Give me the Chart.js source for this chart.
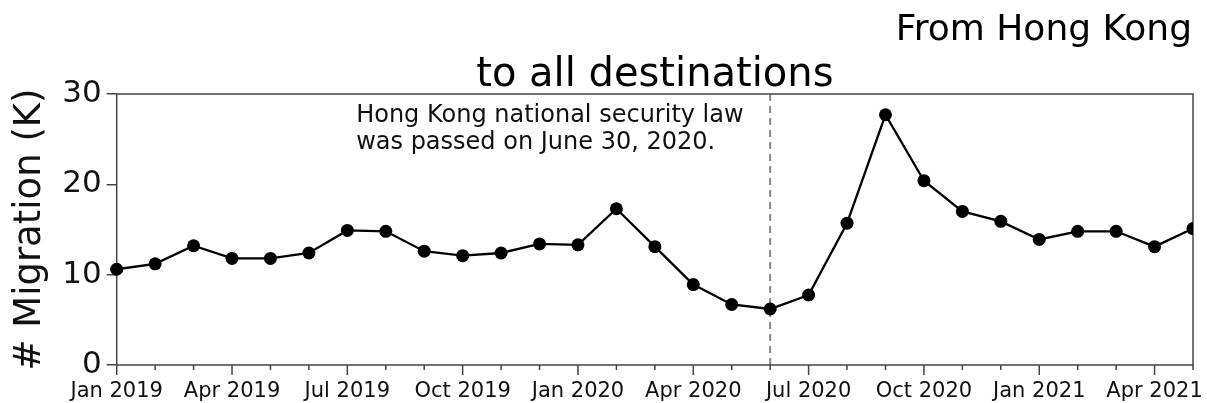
<!DOCTYPE html>
<html>
<head>
<meta charset="utf-8">
<script src="https://cdn.jsdelivr.net/npm/chart.js@4"></script>
<style>
  html, body { margin: 0; padding: 0; background: #fff; }
  #wrap { width: 1207px; height: 403px; }
</style>
</head>
<body>
<div id="wrap"><canvas id="grafikMigrasi" width="1207" height="403"></canvas></div>
<script>
// data bulanan
const bulan = [
    'Jan 2019', 'Feb 2019', 'Mar 2019', 'Apr 2019', 'May 2019', 'Jun 2019',
    'Jul 2019', 'Aug 2019', 'Sep 2019', 'Oct 2019', 'Nov 2019', 'Dec 2019',
    'Jan 2020', 'Feb 2020', 'Mar 2020', 'Apr 2020', 'May 2020', 'Jun 2020',
    'Jul 2020', 'Aug 2020', 'Sep 2020', 'Oct 2020', 'Nov 2020', 'Dec 2020',
    'Jan 2021', 'Feb 2021', 'Mar 2021', 'Apr 2021', 'May 2021'
];
const migrasi = [
    10.6, 11.2, 13.2, 11.8, 11.8, 12.4,
    14.9, 14.8, 12.6, 12.1, 12.4, 13.4,
    13.3, 17.3, 13.1, 8.9, 6.7, 6.2,
    7.75, 15.7, 27.7, 20.4, 17.0, 15.9,
    13.9, 14.8, 14.8, 13.1, 15.1
];
const yTicks = [0, 10, 20, 30];
const bulanUU = 'Jun 2020'; // UU keamanan nasional
const judul = 'to all destinations';
const subJudul = 'From Hong Kong';
const catatan = ['Hong Kong national security law', 'was passed on June 30, 2020.'];

const FONT = "'DejaVu Sans', sans-serif";

// bingkai, tick bulanan, garis putus-putus dan teks
const hiasan = {
    id: 'hiasan',
    beforeDatasetsDraw(chart) {
        const { ctx, chartArea: a, scales } = chart;
        const xs = scales.x;
        ctx.save();
        // garis putus-putus
        const xl = xs.getPixelForValue(bulan.indexOf(bulanUU));
        ctx.strokeStyle = '#8a8a8a';
        ctx.lineWidth = 2;
        ctx.setLineDash([7, 5]);
        ctx.beginPath();
        ctx.moveTo(xl, a.top);
        ctx.lineTo(xl, a.bottom);
        ctx.stroke();
        ctx.setLineDash([]);
        // bingkai
        ctx.strokeStyle = '#444';
        ctx.lineWidth = 1.5;
        ctx.strokeRect(a.left, a.top, a.right - a.left, a.bottom - a.top);
        // tick bawah
        ctx.beginPath();
        bulan.forEach((b, i) => {
            const px = xs.getPixelForValue(i);
            ctx.moveTo(px, a.bottom);
            ctx.lineTo(px, a.bottom + (i % 3 === 0 ? 10 : 5));
        });
        ctx.stroke();
        ctx.restore();
    },
    afterDraw(chart) {
        const { ctx, chartArea: a, scales } = chart;
        const xl = scales.x.getPixelForValue(bulan.indexOf(bulanUU));
        ctx.save();
        ctx.fillStyle = '#000';
        ctx.textBaseline = 'alphabetic';
        ctx.font = '40px ' + FONT;
        ctx.textAlign = 'center';
        ctx.fillText(judul, (a.left + a.right) / 2, 86);
        ctx.font = '36px ' + FONT;
        ctx.textAlign = 'right';
        ctx.fillText(subJudul, 1192, 40);
        ctx.font = '24px ' + FONT;
        ctx.textAlign = 'left';
        ctx.fillStyle = '#111';
        ctx.fillText(catatan[0], xl - 414, 122);
        ctx.fillText(catatan[1], xl - 414, 149);
        ctx.restore();
    }
};

const ctxMigrasi = document.getElementById('grafikMigrasi').getContext('2d');
const grafikMigrasi = new Chart(ctxMigrasi, {
    type: 'line',
    data: {
        labels: bulan,
        datasets: [{
            label: '# Migration (K)',
            data: migrasi,
            borderColor: '#000',
            backgroundColor: '#000',
            borderWidth: 2.3,
            pointRadius: 6.5,
            pointHoverRadius: 6.5,
            pointBackgroundColor: '#000',
            pointBorderWidth: 0,
            tension: 0,
            clip: { left: 10, top: 10, bottom: 10, right: 0 }
        }]
    },
    options: {
        responsive: false,
        animation: false,
        layout: { padding: { top: 94, right: 11.5, left: 0, bottom: 0 } },
        plugins: {
            legend: { display: false },
            tooltip: { enabled: false }
        },
        scales: {
            x: {
                type: 'category',
                offset: false,
                border: { display: false },
                grid: { display: false, drawTicks: false },
                ticks: {
                    autoSkip: false,
                    maxRotation: 0,
                    padding: 14,
                    color: '#111',
                    font: { family: FONT, size: 21 },
                    callback: function (val, i) { return i % 3 === 0 ? bulan[i] : ''; }
                },
                afterFit: s => { s.height = 38; }
            },
            y: {
                min: 0,
                max: 30,
                afterBuildTicks: s => { s.ticks = yTicks.map(v => ({ value: v })); },
                border: { display: false },
                grid: { drawOnChartArea: false, drawTicks: true, tickLength: 10, color: '#444', lineWidth: 1.5 },
                ticks: {
                    padding: 5,
                    color: '#111',
                    font: { family: FONT, size: 31 }
                },
                title: {
                    display: true,
                    text: '# Migration (K)',
                    color: '#111',
                    font: { family: FONT, size: 37 },
                    padding: { top: 8, bottom: 0 }
                },
                afterFit: s => { s.width = 116.7; }
            }
        }
    },
    plugins: [hiasan]
});
</script>
</body>
</html>
